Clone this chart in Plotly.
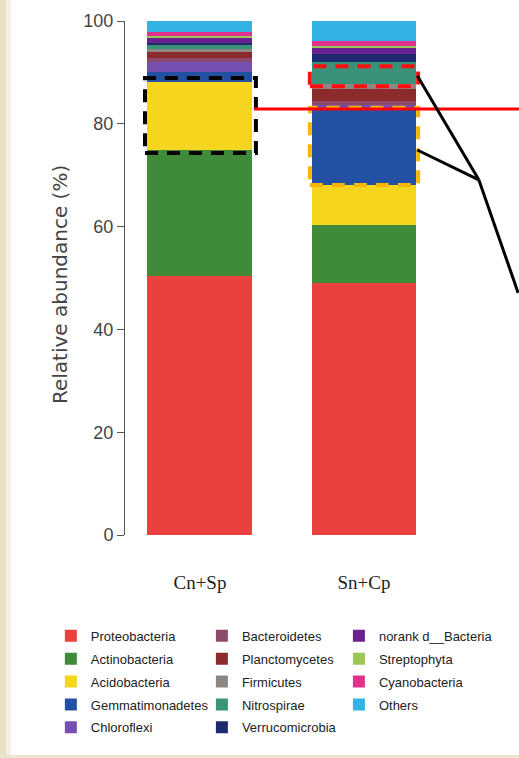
import plotly.graph_objects as go

categories = ["Cn+Sp", "Sn+Cp"]

phyla = ["Proteobacteria", "Actinobacteria", "Acidobacteria", "Gemmatimonadetes",
         "Chloroflexi", "Bacteroidetes", "Planctomycetes", "Firmicutes",
         "Nitrospirae", "Verrucomicrobia", "norank_d__Bacteria", "Streptophyta",
         "Cyanobacteria", "Others"]

cn_sp = [50.4, 24.5, 13.2, 2.0, 2.0, 0.7, 1.2, 0.5, 0.8, 0.5, 1.0, 0.2, 0.8, 2.2]
sn_cp = [49.0, 11.3, 7.8, 14.6, 1.0, 0.8, 2.2, 1.0, 4.3, 1.6, 1.1, 0.4, 1.1, 4.4]

colors = ["#E8413F", "#3F8B3A", "#F6D51F", "#2250A2", "#7650B0", "#8E4A6C",
          "#8C2B2B", "#8C8782", "#3A9279", "#1D2A70", "#6B2190", "#9CC65A",
          "#E0328C", "#33B2E3"]

legend_ids = ["legend"] * 5 + ["legend2"] * 5 + ["legend3"] * 4
xpos = list(range(len(categories)))

fig = go.Figure()
for i, name in enumerate(phyla):
    label = "norank d__Bacteria" if name == "norank_d__Bacteria" else name
    fig.add_trace(go.Bar(
        x=xpos, y=[cn_sp[i], sn_cp[i]], name=label,
        marker=dict(color=colors[i], line=dict(width=0)),
        width=0.64, cliponaxis=False,
        legend=legend_ids[i], legendgroup=name,
        hoverinfo="name+y",
    ))


def bounds(vals, idx):
    lo = sum(vals[:idx])
    return lo, lo + vals[idx]


acido_lo, acido_hi = bounds(cn_sp, 2)
gem_lo, gem_hi = bounds(sn_cp, 3)
nit_lo, nit_hi = bounds(sn_cp, 8)

shapes = []
shapes.append(dict(type="rect", xref="x", yref="y", x0=-0.335, x1=0.341,
                   y0=acido_lo - 0.6, y1=acido_hi + 0.8,
                   line=dict(color="black", width=4, dash="13px,9px")))
shapes.append(dict(type="rect", xref="x", yref="y", x0=0.67, x1=1.33,
                   y0=nit_lo - 0.4, y1=nit_hi - 0.8,
                   line=dict(color="#FF1010", width=4, dash="13px,9px")))
shapes.append(dict(type="rect", xref="x", yref="y", x0=0.67, x1=1.33,
                   y0=gem_lo, y1=gem_hi + 0.4,
                   line=dict(color="#F7B500", width=4, dash="13px,9px")))
shapes.append(dict(type="line", xref="x", yref="y", x0=0.33, x1=1.95,
                   y0=gem_hi + 0.2, y1=gem_hi + 0.2,
                   line=dict(color="#FF0000", width=3)))
jx, jy = 1.70, 69.1
shapes.append(dict(type="line", xref="x", yref="y", x0=1.325, x1=jx,
                   y0=(nit_lo + nit_hi) / 2 - 0.5, y1=jy,
                   line=dict(color="black", width=3)))
shapes.append(dict(type="line", xref="x", yref="y", x0=1.325, x1=jx,
                   y0=(gem_lo + gem_hi) / 2 - 0.5, y1=jy,
                   line=dict(color="black", width=3)))
shapes.append(dict(type="line", xref="x", yref="y", x0=jx, x1=1.94,
                   y0=jy, y1=47.1,
                   line=dict(color="black", width=3)))
# slide background strips
W, H, L, T, B = 519, 758, 125, 21, 223
pw, ph = W - L, H - T - B
shapes.append(dict(type="rect", xref="paper", yref="paper", layer="below",
                   x0=-L / pw, x1=(6 - L) / pw, y0=-B / ph, y1=1 + T / ph,
                   fillcolor="#E8E0C4", line=dict(width=0)))
shapes.append(dict(type="rect", xref="paper", yref="paper", layer="below",
                   x0=(6 - L) / pw, x1=(11 - L) / pw, y0=-B / ph, y1=1 + T / ph,
                   fillcolor="#F4F0E2", line=dict(width=0)))
shapes.append(dict(type="rect", xref="paper", yref="paper", layer="below",
                   x0=-L / pw, x1=1, y0=-B / ph, y1=(3 - B) / ph,
                   fillcolor="#EDE6CE", line=dict(width=0)))

legend_common = dict(
    xref="container", yref="container", xanchor="left", yanchor="top",
    orientation="v", bgcolor="rgba(0,0,0,0)", tracegroupgap=3,
    font=dict(family="Liberation Sans, Arial, sans-serif", size=13, color="#222222"),
    itemclick=False, itemdoubleclick=False,
)

fig.update_layout(
    width=W, height=H,
    margin=dict(l=L, r=0, t=T, b=B, autoexpand=False),
    paper_bgcolor="white", plot_bgcolor="white",
    barmode="stack",
    shapes=shapes,
    legend=dict(x=0.098, y=0.181, **legend_common),
    legend2=dict(x=0.389, y=0.181, **legend_common),
    legend3=dict(x=0.653, y=0.181, **legend_common),
    xaxis=dict(
        type="linear", range=[-0.457, 1.945], showline=False, showgrid=False,
        zeroline=False, ticks="", tickvals=xpos, ticktext=categories,
        ticklabelstandoff=34,
        tickfont=dict(family="Liberation Serif, Times New Roman, serif", size=19, color="#222222"),
    ),
    yaxis=dict(
        range=[0, 100], showline=True, linecolor="#555555", linewidth=1,
        ticks="outside", ticklen=7, tickcolor="#555555", tickwidth=1,
        tickvals=[0, 20, 40, 60, 80, 100],
        showgrid=False, zeroline=False,
        tickfont=dict(family="Liberation Sans, Arial, sans-serif", size=18, color="#444444"),
    ),
    annotations=[dict(
        text="Relative abundance (%)", xref="paper", yref="paper",
        x=(60 - L) / pw, y=(535 - 285) / ph, textangle=-90, showarrow=False,
        xanchor="center", yanchor="middle",
        font=dict(family="DejaVu Sans, sans-serif", size=20, color="#444444"),
    )],
)

fig.write_html("out.html", config={"displayModeBar": False},
               post_script="document.body.style.margin='0';")
